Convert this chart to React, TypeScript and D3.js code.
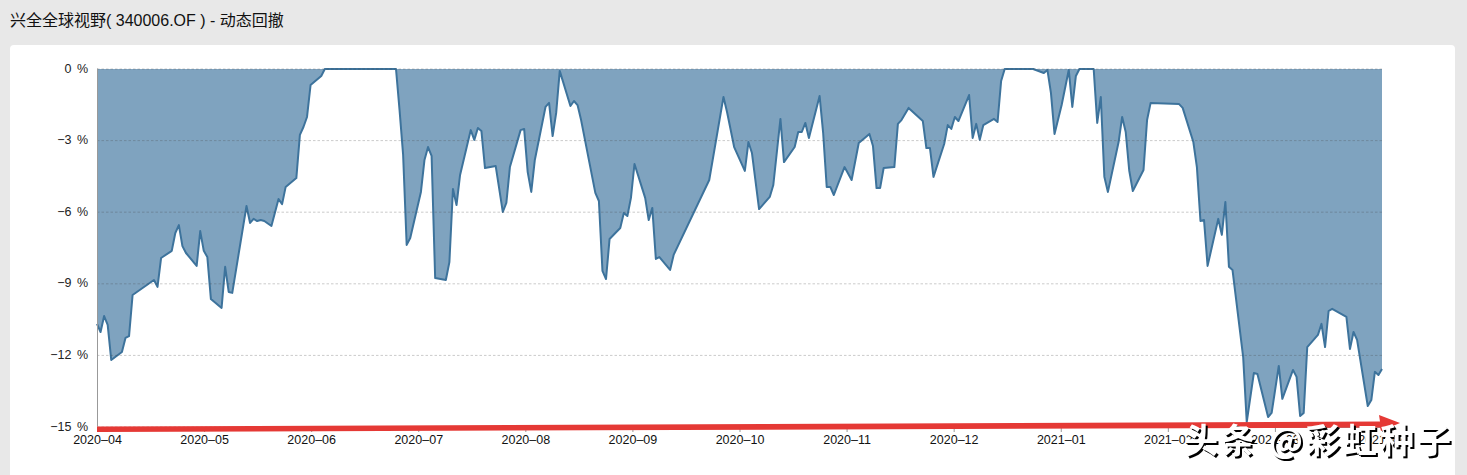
import * as d3 from "d3";
import { useEffect, useRef } from "react";

const title = "兴全全球视野( 340006.OF ) - 动态回撤";
const watermark = "头条 @彩虹种子";

const monthLabels = [
  "2020–04", "2020–05", "2020–06", "2020–07", "2020–08", "2020–09", "2020–10",
  "2020–11", "2020–12", "2021–01", "2021–02", "2021–03", "2021–04",
];
const yTicks = [0, -3, -6, -9, -12, -15];

// calendar days since the first point
const lastDay = 361;
const days = [
  0, 1, 2, 3, 4, 7, 8, 9, 10, 16, 17, 18, 21, 22, 23, 24, 25, 28, 29, 30, 31, 32, 35, 36, 37, 38,
  42, 43, 44, 45, 46, 47, 49, 51, 52, 53, 56, 57, 58, 59, 60, 63, 64, 84, 85, 86, 87, 88, 91, 92,
  93, 94, 95, 98, 99, 100, 101, 102, 105, 106, 107, 108, 109, 112, 114, 115, 116, 119, 120, 121,
  122, 123, 126, 127, 128, 129, 130, 133, 134, 135, 136, 140, 141, 142, 143, 144, 147, 148, 149,
  150, 151, 154, 155, 156, 157, 158, 161, 162, 172, 176, 177, 179, 182, 183, 184, 186, 189, 190,
  192, 193, 196, 197, 198, 199, 200, 203, 204, 205, 206, 207, 210, 212, 214, 217, 218, 219, 220,
  221, 224, 225, 226, 228, 232, 233, 234, 235, 238, 239, 240, 241, 242, 245, 246, 247, 248, 249,
  252, 253, 254, 255, 263, 266, 267, 268, 269, 271, 273, 274, 275, 276, 280, 281, 282, 283, 284,
  287, 288, 289, 290, 291, 294, 295, 296, 304, 305, 308, 309, 310, 311, 312, 315, 316, 317, 318,
  319, 322, 323, 325, 326, 329, 330, 332, 333, 336, 337, 338, 339, 340, 343, 344, 345, 346, 347,
  351, 352, 353, 354, 357, 358, 359, 360, 361,
];

const drawdown = [
  -10.68, -11.02, -10.35, -10.72, -12.19, -11.86, -11.27, -11.19, -9.47, -8.84, -9.13, -7.92,
  -7.62, -6.87, -6.54, -7.42, -7.71, -8.25, -6.79, -7.62, -7.88, -9.64, -10.01, -8.29, -9.34,
  -9.38, -5.74, -6.45, -6.28, -6.37, -6.33, -6.37, -6.58, -5.45, -5.66, -4.94, -4.57, -2.76,
  -2.43, -2.01, -0.67, -0.29, 0, 0, -1.72, -3.6, -7.37, -7.08, -5.15, -3.81, -3.27, -3.64, -8.76,
  -8.84, -8.09, -5.03, -5.7, -4.44, -2.56, -2.97, -2.47, -2.6, -4.15, -4.06, -5.99, -5.61, -4.11,
  -2.56, -2.51, -4.32, -5.15, -3.81, -1.59, -1.42, -2.81, -1.84, -0.08, -1.55, -1.34, -1.51,
  -2.14, -5.19, -5.53, -8.46, -8.8, -7.12, -6.66, -6.03, -6.16, -5.4, -3.98, -5.4, -6.33, -5.82,
  -7.96, -7.88, -8.42, -7.79, -4.65, -1.17, -1.8, -3.27, -4.27, -3.06, -3.52, -5.87, -5.36, -4.86,
  -2.09, -3.9, -3.27, -2.64, -2.64, -2.26, -2.89, -1.13, -2.68, -4.94, -4.94, -5.28, -4.11, -4.65,
  -3.1, -2.72, -3.23, -4.99, -4.99, -4.15, -4.11, -2.3, -2.14, -1.63, -2.18, -3.31, -3.31, -4.52,
  -3.14, -2.35, -2.51, -2.01, -2.18, -1.09, -2.89, -2.3, -2.97, -2.35, -2.09, -2.22, -0.5, 0, 0,
  -0.17, -0.04, -1.01, -2.72, -1.51, -0.04, -1.59, -0.29, 0, 0, -2.26, -1.17, -4.52, -5.15, -3.06,
  -2.01, -2.64, -4.27, -5.11, -4.23, -2.14, -1.42, -1.47, -1.63, -3.06, -4.11, -6.37, -6.33, -8.25,
  -6.28, -6.95, -5.57, -8.29, -8.42, -12.07, -14.79, -12.74, -12.78, -14.58, -14.41, -12.44,
  -13.82, -12.61, -12.9, -14.54, -14.41, -11.65, -11.14, -10.68, -11.65, -10.14, -10.05, -10.39,
  -11.73, -11.02, -11.35, -14.12, -13.87, -12.69, -12.82, -12.57,
];

const width = 1467;
const height = 475;
const plot = { left: 97, right: 1382, top: 69, bottom: 427 };
const font = "'Liberation Sans', 'Noto Sans CJK SC', sans-serif";

export default function App() {
  const svgRef = useRef<SVGSVGElement>(null);

  useEffect(() => {
    if (!svgRef.current) return;
    const svg = d3.select(svgRef.current);
    svg.selectAll("*").remove();

    const x = d3.scaleLinear().domain([0, lastDay]).range([plot.left, plot.right]);
    const xMonths = d3.scalePoint<string>().domain(monthLabels).range([plot.left, plot.right]);
    const y = d3.scaleLinear().domain([0, -15]).range([plot.top, plot.bottom]);

    // page background and white card
    svg.append("rect").attr("width", width).attr("height", height).attr("fill", "#e8e8e8");
    svg
      .append("rect")
      .attr("x", 10)
      .attr("y", 45)
      .attr("width", 1445)
      .attr("height", height)
      .attr("rx", 4)
      .attr("fill", "#fff");

    svg
      .append("text")
      .attr("x", 10)
      .attr("y", 25.5)
      .attr("font-size", 16)
      .attr("fill", "#111")
      .text(title);

    const points = days.map((d, i) => [d, drawdown[i]] as [number, number]);

    // area hangs from the 0 % line
    const area = d3
      .area<[number, number]>()
      .x((d) => x(d[0]))
      .y0(y(0))
      .y1((d) => y(d[1]));
    svg.append("path").attr("d", area(points)).attr("fill", "#7fa3bf");

    const line = d3
      .line<[number, number]>()
      .x((d) => x(d[0]))
      .y((d) => y(d[1]));
    svg
      .append("path")
      .attr("d", line(points))
      .attr("fill", "none")
      .attr("stroke", "#3d739c")
      .attr("stroke-width", 2)
      .attr("stroke-linejoin", "round");

    // dashed grid goes over the area
    svg
      .append("g")
      .selectAll("line")
      .data(yTicks)
      .enter()
      .append("line")
      .attr("x1", plot.left)
      .attr("x2", plot.right)
      .attr("y1", (d) => y(d))
      .attr("y2", (d) => y(d))
      .attr("stroke", "rgba(70,70,70,0.28)")
      .attr("stroke-dasharray", "2.5 2");

    // y axis
    const yAxis = svg
      .append("g")
      .attr("transform", `translate(${plot.left},-1)`)
      .call(
        d3
          .axisLeft(y)
          .tickValues(yTicks)
          .tickSize(0)
          .tickPadding(9)
          .tickFormat((d) => `${d3.format("d")(d as number)} %`),
      );
    yAxis.select(".domain").attr("stroke", "#999");
    yAxis
      .selectAll("text")
      .attr("font-size", 12.5)
      .attr("font-family", font)
      .attr("fill", "#222")
      .style("word-spacing", "2px");

    // x axis
    const xAxis = svg
      .append("g")
      .attr("transform", `translate(0,${plot.bottom})`)
      .call(d3.axisBottom(xMonths).tickSize(5).tickPadding(3));
    xAxis.select(".domain").attr("stroke", "#999");
    xAxis.selectAll(".tick line").attr("stroke", "#999");
    xAxis.selectAll("text").attr("font-size", 12.5).attr("font-family", font).attr("fill", "#111");

    // red hand-drawn arrow along the bottom
    svg
      .append("path")
      .attr("d", "M97,426.5 L1380,421.5 L1379,415 L1400,423 L1381,431 L1380,427.5 L97,432 Z")
      .attr("fill", "#e53935");

    // watermark: white glyphs with a hard black shadow
    svg
      .append("text")
      .attr("x", 1184)
      .attr("y", 453)
      .attr("font-size", 34)
      .attr("font-weight", 700)
      .attr("letter-spacing", 3)
      .attr("font-family", "'Noto Sans CJK SC', sans-serif")
      .attr("fill", "#fff")
      .style("filter", "drop-shadow(2px 2.5px 0 #000)")
      .text(watermark);
  }, []);

  return (
    <svg
      ref={svgRef}
      width={width}
      height={height}
      fontFamily={font}
      style={{ position: "fixed", left: 0, top: 0 }}
    />
  );
}
